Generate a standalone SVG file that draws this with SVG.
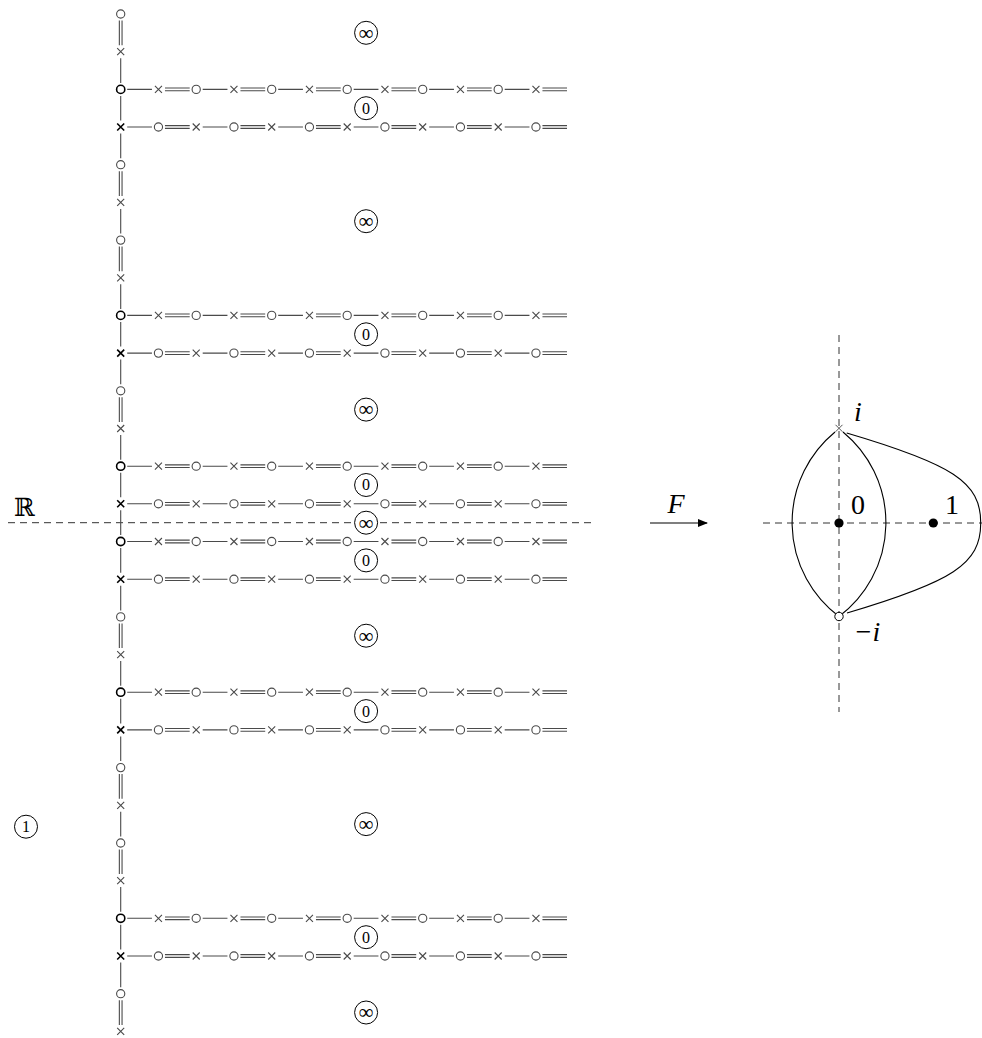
<svg xmlns="http://www.w3.org/2000/svg" xmlns:xlink="http://www.w3.org/1999/xlink" width="982" height="1038" viewBox="0 0 982 1038">
<style>
.ln{stroke:#4a4a4a;stroke-width:1.1;fill:none}
.mk{stroke:#4a4a4a;stroke-width:1.1;fill:#fff}
.bd{stroke:#000;stroke-width:1.6;fill:#fff}
.ds{stroke:#333;stroke-width:1;stroke-dasharray:7 5;fill:none}
.cl{stroke:#000;stroke-width:1;fill:#fff}
.cu{stroke:#000;stroke-width:1.1;fill:none}
.t0{font-family:"Liberation Serif",serif;font-size:16px;text-anchor:middle;fill:#000}
.ti{font-family:"Liberation Serif",serif;font-size:21px;text-anchor:middle;fill:#000}
.lb{font-family:"Liberation Serif",serif;font-size:28px;fill:#000}
.it{font-family:"Liberation Serif",serif;font-style:italic;font-size:28px;fill:#000}
</style>
<defs>
<circle id="o" r="4.1"/>
<path id="x" d="M-3.5 -3.5L3.5 3.5M-3.5 3.5L3.5 -3.5"/>
<path id="rowS" d="M127.2 0H151.95M202.7 0H227.45M278.2 0H302.95M353.7 0H378.45M429.2 0H453.95M504.7 0H529.45"/>
<path id="rowD" d="M164.95 -1.35H189.7M164.95 1.35H189.7M240.45 -1.35H265.2M240.45 1.35H265.2M315.95 -1.35H340.7M315.95 1.35H340.7M391.45 -1.35H416.2M391.45 1.35H416.2M466.95 -1.35H491.7M466.95 1.35H491.7M542.45 -1.35H567M542.45 1.35H567"/>
<g id="rowAm">
<use href="#x" x="158.45"/><use href="#o" x="196.2"/><use href="#x" x="233.95"/><use href="#o" x="271.7"/><use href="#x" x="309.45"/><use href="#o" x="347.2"/><use href="#x" x="384.95"/><use href="#o" x="422.7"/><use href="#x" x="460.45"/><use href="#o" x="498.2"/><use href="#x" x="535.95"/>
</g>
<g id="rowBm">
<use href="#o" x="158.45"/><use href="#x" x="196.2"/><use href="#o" x="233.95"/><use href="#x" x="271.7"/><use href="#o" x="309.45"/><use href="#x" x="347.2"/><use href="#o" x="384.95"/><use href="#x" x="422.7"/><use href="#o" x="460.45"/><use href="#x" x="498.2"/><use href="#o" x="535.95"/>
</g>
<marker id="ah" markerWidth="10" markerHeight="8" refX="9" refY="4" orient="auto" markerUnits="userSpaceOnUse">
<path d="M0 0L10 4L0 8z" fill="#000"/>
</marker>
</defs>

<g id="axes">
<path class="ds" d="M8 522.7H595"/>
<path class="ds" d="M839 335V712"/>
<path class="ds" d="M763 523H982"/>
</g>

<g id="connectors">
<g id="rows-lines" class="ln">
<use href="#rowS" y="89.4"/><use href="#rowD" y="89.4"/>
<use href="#rowS" y="127.0"/><use href="#rowD" y="127.0"/>
<use href="#rowS" y="315.4"/><use href="#rowD" y="315.4"/>
<use href="#rowS" y="353.1"/><use href="#rowD" y="353.1"/>
<use href="#rowS" y="466.2"/><use href="#rowD" y="466.2"/>
<use href="#rowS" y="503.8"/><use href="#rowD" y="503.8"/>
<use href="#rowS" y="541.5"/><use href="#rowD" y="541.5"/>
<use href="#rowS" y="579.2"/><use href="#rowD" y="579.2"/>
<use href="#rowS" y="692.2"/><use href="#rowD" y="692.2"/>
<use href="#rowS" y="729.9"/><use href="#rowD" y="729.9"/>
<use href="#rowS" y="918.3"/><use href="#rowD" y="918.3"/>
<use href="#rowS" y="956.0"/><use href="#rowD" y="956.0"/>
</g>
<path class="ln" d="M120.7 58.2V82.9M120.7 95.9V120.5M120.7 133.5V158.2M120.7 208.9V233.6M120.7 284.3V308.9M120.7 321.9V346.6M120.7 359.6V384.3M120.7 435V459.7M120.7 472.7V497.3M120.7 510.3V535M120.7 548V572.7M120.7 585.7V610.4M120.7 661.1V685.7M120.7 698.7V723.4M120.7 736.4V761.1M120.7 811.8V836.5M120.7 887.1V911.8M120.7 924.8V949.5M120.7 962.5V987.2"/>
<path class="ln" d="M119.35 20.5V45.2M122.05 20.5V45.2M119.35 171.2V195.9M122.05 171.2V195.9M119.35 246.6V271.3M122.05 246.6V271.3M119.35 397.3V422M122.05 397.3V422M119.35 623.4V648.1M122.05 623.4V648.1M119.35 774.1V798.8M122.05 774.1V798.8M119.35 849.5V874.1M122.05 849.5V874.1M119.35 1000.2V1024.9M122.05 1000.2V1024.9"/>
<path id="arrowF" d="M650 523H707" stroke="#000" stroke-width="1.1" fill="none" marker-end="url(#ah)"/>
<path id="arcL" class="cu" d="M835 432A117.3 117.3 0 0 0 839 616.5"/>
<path id="arcR" class="cu" d="M843 432A117.3 117.3 0 0 1 839 616.5"/>
<path id="arcO" class="cu" d="M846.7 433C952 464 981 482 980.7 523C981 564 952 582 847 613"/>
</g>

<g id="row-markers" class="mk">
<use href="#rowAm" y="89.4"/><use href="#rowBm" y="127.0"/>
<use href="#rowAm" y="315.4"/><use href="#rowBm" y="353.1"/>
<use href="#rowAm" y="466.2"/><use href="#rowBm" y="503.8"/>
<use href="#rowAm" y="541.5"/><use href="#rowBm" y="579.2"/>
<use href="#rowAm" y="692.2"/><use href="#rowBm" y="729.9"/>
<use href="#rowAm" y="918.3"/><use href="#rowBm" y="956.0"/>
</g>

<g id="chain-markers" class="mk">
<use href="#o" x="120.7" y="14.0"/><use href="#x" x="120.7" y="51.7"/>
<use href="#o" x="120.7" y="164.7"/><use href="#x" x="120.7" y="202.4"/>
<use href="#o" x="120.7" y="240.1"/><use href="#x" x="120.7" y="277.8"/>
<use href="#o" x="120.7" y="390.8"/><use href="#x" x="120.7" y="428.5"/>
<use href="#o" x="120.7" y="616.9"/><use href="#x" x="120.7" y="654.6"/>
<use href="#o" x="120.7" y="767.6"/><use href="#x" x="120.7" y="805.3"/>
<use href="#o" x="120.7" y="843.0"/><use href="#x" x="120.7" y="880.6"/>
<use href="#o" x="120.7" y="993.7"/><use href="#x" x="120.7" y="1031.4"/>
</g>
<g id="row-starts" class="bd">
<use href="#o" x="120.7" y="89.4"/><use href="#x" x="120.7" y="127.0"/>
<use href="#o" x="120.7" y="315.4"/><use href="#x" x="120.7" y="353.1"/>
<use href="#o" x="120.7" y="466.2"/><use href="#x" x="120.7" y="503.8"/>
<use href="#o" x="120.7" y="541.5"/><use href="#x" x="120.7" y="579.2"/>
<use href="#o" x="120.7" y="692.2"/><use href="#x" x="120.7" y="729.9"/>
<use href="#o" x="120.7" y="918.3"/><use href="#x" x="120.7" y="956.0"/>
</g>

<g id="zeros">
<circle class="cl" cx="366.1" cy="108.2" r="11.5"/><text class="t0" x="366.1" y="113.6">0</text>
<circle class="cl" cx="366.1" cy="334.3" r="11.5"/><text class="t0" x="366.1" y="339.7">0</text>
<circle class="cl" cx="366.1" cy="485.0" r="11.5"/><text class="t0" x="366.1" y="490.4">0</text>
<circle class="cl" cx="366.1" cy="560.4" r="11.5"/><text class="t0" x="366.1" y="565.8">0</text>
<circle class="cl" cx="366.1" cy="711.1" r="11.5"/><text class="t0" x="366.1" y="716.5">0</text>
<circle class="cl" cx="366.1" cy="937.2" r="11.5"/><text class="t0" x="366.1" y="942.6">0</text>
</g>
<g id="infinities">
<circle class="cl" cx="366.1" cy="32.8" r="11.5"/><text class="ti" x="366.1" y="39.6">∞</text>
<circle class="cl" cx="366.1" cy="221.2" r="11.5"/><text class="ti" x="366.1" y="228.0">∞</text>
<circle class="cl" cx="366.1" cy="409.6" r="11.5"/><text class="ti" x="366.1" y="416.4">∞</text>
<circle class="cl" cx="366.1" cy="522.7" r="11.5"/><text class="ti" x="366.1" y="529.5">∞</text>
<circle class="cl" cx="366.1" cy="635.7" r="11.5"/><text class="ti" x="366.1" y="642.5">∞</text>
<circle class="cl" cx="366.1" cy="824.1" r="11.5"/><text class="ti" x="366.1" y="830.9">∞</text>
<circle class="cl" cx="366.1" cy="1012.5" r="11.5"/><text class="ti" x="366.1" y="1019.3">∞</text>
</g>
<g id="one">
<circle class="cl" cx="26" cy="826.7" r="11.5"/><text class="t0" x="26" y="832.1">1</text>
</g>
<g id="label-R">
<text x="14" y="516" font-family="DejaVu Serif, serif" font-size="25" fill="#000">ℝ</text>
</g>
<g id="label-F">
<text class="it" x="676" y="513" text-anchor="middle">F</text>
</g>

<g id="pt-i">
<use href="#x" x="839" y="428.3" style="stroke:#555;stroke-width:1;fill:none"/>
<text class="it" x="858" y="421" text-anchor="middle">i</text>
</g>
<g id="pt-minus-i">
<circle cx="839" cy="616.5" r="4.2" style="stroke:#000;stroke-width:1;fill:#fff"/>
<text class="it" x="867" y="641" text-anchor="middle">−i</text>
</g>
<g id="pt-0">
<circle cx="839" cy="523" r="4.6" fill="#000"/>
<text class="lb" x="858" y="514" text-anchor="middle">0</text>
</g>
<g id="pt-1">
<circle cx="933.3" cy="523" r="4.6" fill="#000"/>
<text class="lb" x="952" y="514" text-anchor="middle">1</text>
</g>
</svg>
